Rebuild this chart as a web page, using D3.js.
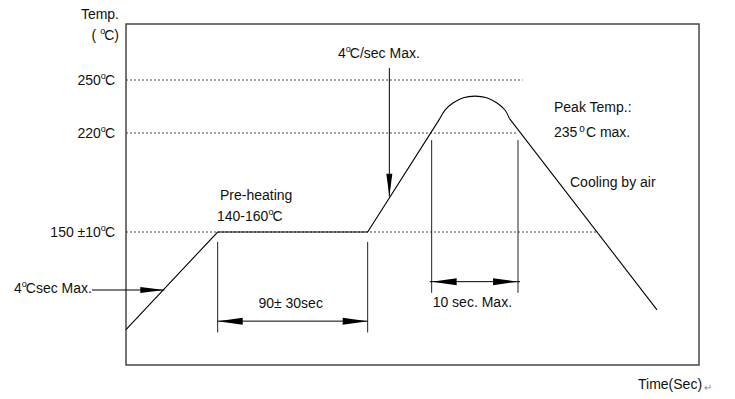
<!DOCTYPE html>
<html><head><meta charset="utf-8">
<script src="https://cdn.jsdelivr.net/npm/d3@7"></script>
<style>
body{margin:0;background:#fff}
text{font-family:"Liberation Sans",Arial,sans-serif;font-size:14px;fill:#111}
</style>
</head><body><svg id="c" width="735" height="399"></svg>
<script>
// ---- data (time in s, temperature in °C; schematic) ----
const rampTime = [0, 55, 145, 188.4];
const rampTemp = [81, 150, 150, 228.3];
const peakTime = [188.4, 191.4, 196.4, 202.4, 209.4, 216.4, 222.4, 227.4, 230];
const peakTemp = [228.3, 233.0, 237.1, 240.0, 240.9, 240.0, 237.1, 233.0, 228.3];
const coolTime = [230, 318.6];
const coolTemp = [228.3, 95];
const tickTemps = [250, 220, 150];
const tickLabels = ["250", "220", "150 \u00b110"];
const guideEnd = [238, 234.6, 282];
const preheatSpan = [55, 145];
const peakSpan = [183.4, 235.2];

const svg = d3.select("#c");
const x = d3.scaleLinear().domain([0, 343.8]).range([126, 699]);
const y = d3.scaleLinear().domain([56, 150, 220, 250, 282]).range([365, 232, 133, 80, 24]);

// frame
svg.append("rect").attr("x", x(0)).attr("y", y(282))
  .attr("width", x(343.8) - x(0)).attr("height", y(56) - y(282))
  .attr("fill", "none").attr("stroke", "#3a3a3a").attr("stroke-width", 1.4);

// dotted guides
tickTemps.forEach((t, i) => {
  svg.append("line").attr("x1", x(0)).attr("x2", x(guideEnd[i]))
    .attr("y1", y(t)).attr("y2", y(t))
    .attr("stroke", "#444").attr("stroke-width", 1).attr("stroke-dasharray", "2,2");
});

// tick labels with superscript degree
tickTemps.forEach((t, i) => {
  const tx = svg.append("text").attr("x", 115).attr("y", y(t) + 5).attr("text-anchor", "end");
  tx.append("tspan").text(tickLabels[i]);
  tx.append("tspan").attr("font-size", 9).attr("dy", -6).text("o");
  tx.append("tspan").attr("dy", 6).attr("dx", -1).text("C");
});

// axis titles
svg.append("text").attr("x", 119).attr("y", 19).attr("text-anchor", "end").text("Temp.");
{
  const t = svg.append("text").attr("x", 119).attr("y", 40).attr("text-anchor", "end");
  t.append("tspan").text("(");
  t.append("tspan").attr("font-size", 9).attr("dy", -6).attr("dx", 4).text("o");
  t.append("tspan").attr("dy", 6).attr("dx", -1).text("C)");
}
svg.append("text").attr("x", 638).attr("y", 389).text("Time(Sec)");
svg.append("text").attr("x", 704).attr("y", 391).style("fill", "#888").style("font-size", "10px").text("\u21b5");

// profile
const line = d3.line().x(d => x(d[0])).y(d => y(d[1]));
const pStyle = s => s.attr("fill", "none").attr("stroke", "#000").attr("stroke-width", 1.1);
svg.append("path").attr("d", line(rampTime.map((t, i) => [t, rampTemp[i]]))).call(pStyle);
svg.append("path").attr("d", line.curve(d3.curveCatmullRom)(peakTime.map((t, i) => [t, peakTemp[i]]))).call(pStyle);
line.curve(d3.curveLinear);
svg.append("path").attr("d", line(coolTime.map((t, i) => [t, coolTemp[i]]))).call(pStyle);

// helpers
function head(tx, ty, dx, dy, len, half) {
  const px = -dy, py = dx;
  const bx = tx - dx * len, by = ty - dy * len;
  svg.append("path").attr("d",
    `M${tx},${ty}L${bx + px * half},${by + py * half}L${bx - px * half},${by - py * half}Z`)
    .attr("fill", "#000");
}
function seg(x1, y1, x2, y2, c = "#000", w = 1) {
  svg.append("line").attr("x1", x1).attr("y1", y1).attr("x2", x2).attr("y2", y2)
    .attr("stroke", c).attr("stroke-width", w);
}

// preheat dimension
preheatSpan.forEach(t => seg(x(t), y(143), x(t), y(79), "#222", 1));
seg(x(preheatSpan[0]), y(87), x(preheatSpan[1]), y(87));
head(x(preheatSpan[0]), y(87), -1, 0, 25, 3.5);
head(x(preheatSpan[1]), y(87), 1, 0, 25, 3.5);
svg.append("text").attr("x", (x(preheatSpan[0]) + x(preheatSpan[1])) / 2 - 2).attr("y", y(87) - 13)
  .attr("text-anchor", "middle").text("90\u00b1 30sec");

// peak dimension
peakSpan.forEach(t => seg(x(t), y(215), x(t), y(107), "#222", 1));
seg(x(peakSpan[0]) - 2, y(114.9), x(peakSpan[1]) + 2, y(114.9));
head(x(peakSpan[0]), y(114.9), -1, 0, 25, 3.5);
head(x(peakSpan[1]), y(114.9), 1, 0, 25, 3.5);
svg.append("text").attr("x", x(peakSpan[0]) + 1).attr("y", 307).text("10 sec. Max.");

// ramp arrows
seg(92, y(109), x(23), y(109));
head(x(23), y(109), 1, 0, 24, 3);
{
  const t = svg.append("text").attr("x", 14).attr("y", y(109) + 3);
  t.append("tspan").text("4");
  t.append("tspan").attr("font-size", 9).attr("dy", -6).text("o");
  t.append("tspan").attr("dy", 6).attr("dx", -1).text("Csec Max.");
}
seg(x(158), y(256.8), x(158), y(175));
head(x(158), y(175), 0, 1, 23, 3);
{
  const t = svg.append("text").attr("x", 338).attr("y", 58);
  t.append("tspan").text("4");
  t.append("tspan").attr("font-size", 9).attr("dy", -6).text("o");
  t.append("tspan").attr("dy", 6).attr("dx", -1).text("C/sec Max.");
}

// annotations
svg.append("text").attr("x", 220).attr("y", 200).text("Pre-heating");
{
  const t = svg.append("text").attr("x", 217).attr("y", 221);
  t.append("tspan").text("140-160");
  t.append("tspan").attr("font-size", 9).attr("dy", -6).text("o");
  t.append("tspan").attr("dy", 6).attr("dx", -1).text("C");
}
svg.append("text").attr("x", 554).attr("y", 112).text("Peak Temp.:");
{
  const t = svg.append("text").attr("x", 554).attr("y", 137);
  t.append("tspan").text("235");
  t.append("tspan").attr("font-size", 10).attr("dy", -5).attr("dx", 2).text("o");
  t.append("tspan").attr("dy", 5).attr("dx", 1).text("C max.");
}
svg.append("text").attr("x", 570).attr("y", 187).text("Cooling by air");
</script></body></html>
